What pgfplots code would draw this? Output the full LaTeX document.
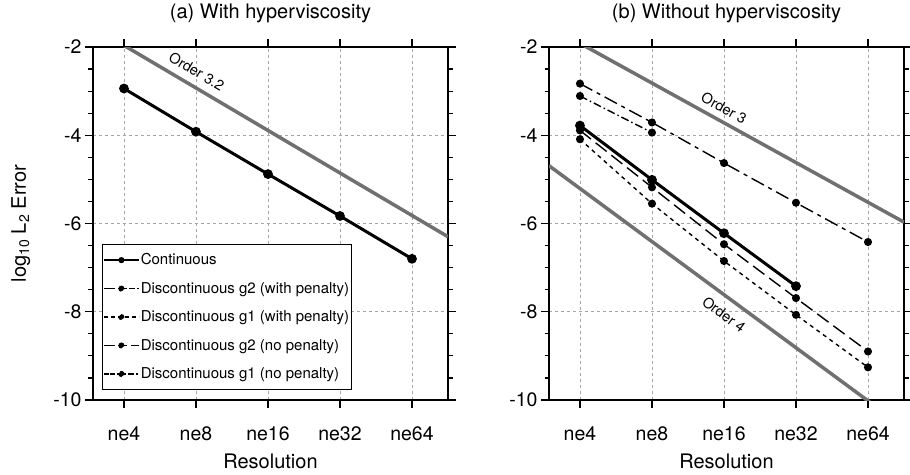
\documentclass[border=0pt]{standalone}
\usepackage{fontspec}
\setmainfont{TeX Gyre Heros}
\usepackage{pgfplots}
\pgfplotsset{compat=1.18}

\definecolor{refgray}{RGB}{112,112,112}

\pgfplotsset{
 myaxis/.style={
  scale only axis, width=355pt, height=353pt,
  xmin=-0.43, xmax=4.5, ymin=-10, ymax=-2,
  xtick={0,1,2,3,4}, xticklabels={ne4,ne8,ne16,ne32,ne64},
  ytick={-10,-8,-6,-4,-2}, yticklabels={-10,-8,-6,-4,-2},
  minor y tick num=3,
  tick align=outside,
  major tick length=8pt, minor tick length=4.5pt,
  every tick/.style={black, line width=1.2pt},
  axis line style={line width=1.6pt},
  grid=major,
  major grid style={gray!70, line width=0.8pt, dash pattern=on 3pt off 3pt},
  tick label style={font=\fontsize{19.5}{20}\selectfont},
  xticklabel style={yshift=-15pt},
  label style={font=\fontsize{20}{22}\selectfont},
  title style={font=\fontsize{20}{22}\selectfont, at={(axis description cs:0.5,1.065)}, anchor=base},
  xlabel=Resolution,
  xlabel style={at={(axis description cs:0.5,-0.193)}, anchor=base},
  clip=true,
  legend image code/.code={\draw[#1] (0pt,0pt) -- (35pt,0pt); \fill[black] (17.5pt,0pt) circle (2.4pt);},
 },
 mk/.style={mark=*, mark size=3.3pt, mark options={solid, fill=black}},
 scont/.style={black, line width=3pt, mk},
 sgtwowp/.style={black, line width=1.4pt, mk, dash pattern=on 14pt off 5pt on 4pt off 5pt},
 sgonewp/.style={black, line width=1.4pt, mk, dash pattern=on 4pt off 4pt},
 sgtwonp/.style={black, line width=1.4pt, mk, dash pattern=on 14pt off 6pt},
 sgonenp/.style={black, line width=1.4pt, mk, dash pattern=on 8pt off 3pt on 1.5pt off 3pt},
 ordl/.style={refgray, line width=3.5pt, no marks},
 lg/.style={black, line width=1.3pt},
}

\begin{document}
\begin{tikzpicture}
\useasboundingbox (0pt,0pt) rectangle (910pt,474pt);

% ---------------- (a) ----------------
\begin{axis}[myaxis, at={(93pt,74pt)}, anchor=south west,
  title={(a) With hyperviscosity},
  ylabel={log\textsubscript{10} L\textsubscript{2} Error},
  ylabel style={at={(axis description cs:-0.189,0.5)}, anchor=base},
  legend style={at={(axis description cs:0.025,0.028)}, anchor=south west,
    font=\fontsize{15}{16}\selectfont, draw=black, line width=0.8pt,
    row sep=12pt, inner xsep=1pt, inner ysep=7.5pt,
    nodes={inner xsep=1.2pt}},
  legend cell align=left]
\addplot[ordl, forget plot] coordinates {(-0.43,-1.55) (4.5,-6.30)};
\node[font=\fontsize{14.5}{15}\selectfont, rotate=-30.5] at (axis cs:1.01,-2.55) {Order 3.2};
\addplot[scont, forget plot] coordinates {(0,-2.94) (1,-3.92) (2,-4.88) (3,-5.83) (4,-6.80)};
\addlegendimage{lg}
\addlegendentry{Continuous}
\addlegendimage{lg, dash pattern=on 11pt off 3pt on 9pt off 2pt on 6pt off 2pt on 2pt off 10pt}
\addlegendentry{Discontinuous g2 (with penalty)}
\addlegendimage{lg, dash pattern=on 4pt off 3pt}
\addlegendentry{Discontinuous g1 (with penalty)}
\addlegendimage{lg, dash pattern=on 11pt off 3pt on 9pt off 4pt on 10pt off 5pt}
\addlegendentry{Discontinuous g2 (no penalty)}
\addlegendimage{lg, dash pattern=on 5pt off 1.5pt on 5pt off 2pt on 9pt off 2pt on 6pt off 2pt on 2pt off 5pt}
\addlegendentry{Discontinuous g1 (no penalty)}
\end{axis}

% ---------------- (b) ----------------
\begin{axis}[myaxis, at={(549pt,74pt)}, anchor=south west,
  title={(b) Without hyperviscosity}]
\addplot[ordl] coordinates {(-0.43,-1.53) (4.5,-5.97)};
\addplot[ordl] coordinates {(-0.43,-4.69) (4.5,-10.62)};
\node[font=\fontsize{14.5}{15}\selectfont, rotate=-29] at (axis cs:2.0,-3.38) {Order 3};
\node[font=\fontsize{14.5}{15}\selectfont, rotate=-36.4] at (axis cs:2.0,-8.06) {Order 4};
\addplot[sgtwowp] coordinates {(0,-2.83) (1,-3.71) (2,-4.63) (3,-5.53) (4,-6.42)};
\addplot[sgonenp] coordinates {(0,-3.11) (1,-3.94)};
\addplot[sgtwonp] coordinates {(0,-3.89) (1,-5.18) (2,-6.47) (3,-7.69) (4,-8.90)};
\addplot[sgonewp] coordinates {(0,-4.09) (1,-5.55) (2,-6.85) (3,-8.07) (4,-9.26)};
\addplot[scont] coordinates {(0,-3.78) (1,-5.01) (2,-6.22) (3,-7.42)};
\end{axis}
\end{tikzpicture}
\end{document}
